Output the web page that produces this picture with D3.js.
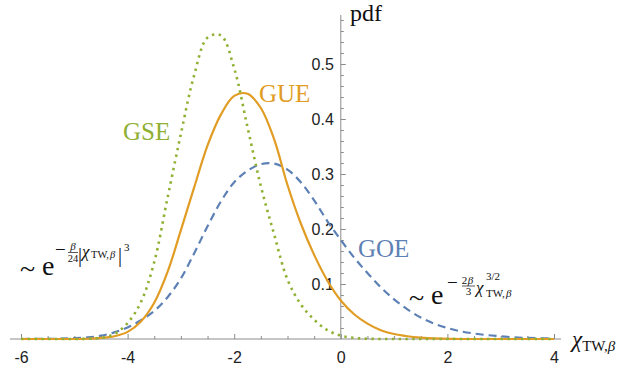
<!DOCTYPE html>
<html lang="en">
<head>
<meta charset="UTF-8">
<script src="https://cdn.jsdelivr.net/npm/d3@7"></script>
<title>Tracy-Widom pdf</title>
<style>
    body { margin: 0; background: #fff; }
    .tick text { font-family: "Liberation Sans", Arial, sans-serif; font-size: 16px; fill: #222; }
    .tick line { stroke: #8c8c8c; }
    .serif { font-family: "Liberation Serif", "Times New Roman", serif; }
</style>
</head>
<body>
<div id="chart"></div>
<script>
    // x grid of the three curves
    const xs = [-6, -5.75, -5.5, -5.25, -5, -4.75, -4.5, -4.25, -4, -3.75, -3.5, -3.25, -3, -2.75, -2.5, -2.25,
        -2, -1.75, -1.5, -1.25, -1, -0.75, -0.5, -0.25, 0, 0.25, 0.5, 0.75, 1, 1.25, 1.5, 1.75,
        2, 2.25, 2.5, 2.75, 3, 3.25, 3.5, 3.75, 4];

    const goe = [0, 0.0001, 0.0003, 0.0007, 0.0015, 0.003, 0.006, 0.012, 0.021, 0.034, 0.051, 0.076, 0.110, 0.156, 0.205, 0.250,
        0.285, 0.306, 0.318, 0.319, 0.308, 0.285, 0.252, 0.214, 0.180, 0.148, 0.120, 0.094, 0.072, 0.054, 0.039, 0.028,
        0.020, 0.014, 0.010, 0.007, 0.005, 0.003, 0.002, 0.0013, 0.0009];

    const gue = [0, 0, 0, 0, 0, 0.0005, 0.002, 0.005, 0.013, 0.032, 0.066, 0.122, 0.198, 0.276, 0.352, 0.408,
        0.442, 0.446, 0.420, 0.363, 0.280, 0.210, 0.153, 0.106, 0.070, 0.045, 0.028, 0.016, 0.009, 0.005, 0.0025, 0.001,
        0.0005, 0, 0, 0, 0, 0, 0, 0, 0];

    const gse = [0, 0, 0, 0, 0, 0.0005, 0.002, 0.009, 0.029, 0.067, 0.140, 0.257, 0.373, 0.480, 0.548, 0.552,
        0.492, 0.385, 0.278, 0.190, 0.108, 0.063, 0.035, 0.016, 0.006, 0.002, 0.0005, 0, 0, 0, 0, 0,
        0, 0, 0, 0, 0, 0, 0, 0, 0];

    const xTicks = [-6, -4, -2, 0, 2, 4];
    const yTicks = [0.1, 0.2, 0.3, 0.4, 0.5];
    const seriesNames = ["GOE", "GUE", "GSE"];

    const width = 624, height = 370;
    const colors = { GOE: "#5e81b5", GUE: "#e19c24", GSE: "#8fb032" };

    const svg = d3.select("#chart").append("svg")
        .attr("width", width)
        .attr("height", height);

    const x = d3.scaleLinear().domain([-6, 4]).range([21, 554]);
    const y = d3.scaleLinear().domain([0, 0.5]).range([339, 64]);

    // axis lines
    svg.append("line")
        .attr("x1", 10).attr("x2", 561)
        .attr("y1", y(0)).attr("y2", y(0))
        .attr("stroke", "#8c8c8c").attr("stroke-width", 1);
    svg.append("line")
        .attr("x1", x(0)).attr("x2", x(0))
        .attr("y1", y(0)).attr("y2", 15)
        .attr("stroke", "#8c8c8c").attr("stroke-width", 1);

    // minor ticks
    const xMinor = d3.range(-6, 4.01, 0.5).filter(v => !xTicks.includes(v));
    const yMinor = d3.range(0.02, 0.59, 0.02).filter(v => Math.abs(v * 10 - Math.round(v * 10)) > 0.01);

    svg.append("g")
        .attr("transform", `translate(0,${y(0)})`)
        .call(d3.axisBottom(x).tickValues(xMinor).tickSizeInner(-3).tickSizeOuter(0).tickFormat(""))
        .call(g => g.select(".domain").remove());
    svg.append("g")
        .attr("transform", `translate(0,${y(0)})`)
        .call(d3.axisBottom(x).tickValues(xTicks).tickSizeInner(-5).tickSizeOuter(0).tickPadding(13)
            .tickFormat(d => String(d)))
        .call(g => g.select(".domain").remove());

    svg.append("g")
        .attr("transform", `translate(${x(0)},0)`)
        .call(d3.axisLeft(y).tickValues(yMinor).tickSizeInner(-3).tickSizeOuter(0).tickFormat(""))
        .call(g => g.select(".domain").remove());
    svg.append("g")
        .attr("transform", `translate(${x(0)},0)`)
        .call(d3.axisLeft(y).tickValues(yTicks).tickSizeInner(-5).tickSizeOuter(0).tickPadding(7)
            .tickFormat(d3.format(".1f")))
        .call(g => g.select(".domain").remove());

    // curves
    const line = d3.line()
        .x(d => x(d[0]))
        .y(d => y(d[1]))
        .curve(d3.curveCatmullRom.alpha(0.5));

    const data = { GOE: goe, GUE: gue, GSE: gse };
    const dash = { GOE: "8,5", GUE: null, GSE: "2.4,4.4" };

    seriesNames.forEach(name => {
        svg.append("path")
            .datum(xs.map((v, i) => [v, data[name][i]]))
            .attr("d", line)
            .attr("fill", "none")
            .attr("stroke", colors[name])
            .attr("stroke-width", name === "GSE" ? 2.6 : 2.2)
            .attr("stroke-dasharray", dash[name]);
    });

    // series labels
    const labels = [
        { name: "GSE", x: 123, y: 140 },
        { name: "GUE", x: 259, y: 102 },
        { name: "GOE", x: 358, y: 257 }
    ];
    svg.selectAll(".lab")
        .data(labels)
        .enter()
        .append("text")
        .attr("class", "serif")
        .attr("x", d => d.x)
        .attr("y", d => d.y)
        .attr("font-size", 25)
        .attr("fill", d => colors[d.name])
        .text(d => d.name);

    // axis labels
    svg.append("text").attr("class", "serif")
        .attr("x", 350).attr("y", 21).attr("font-size", 24).attr("fill", "#111")
        .text("pdf");

    const xl = svg.append("text").attr("class", "serif").attr("x", 572).attr("y", 347).attr("fill", "#111");
    xl.append("tspan").attr("font-size", 23).attr("font-style", "italic").text("χ");
    xl.append("tspan").attr("font-size", 15).attr("dy", 4).text("TW,");
    xl.append("tspan").attr("font-size", 15).attr("font-style", "italic").text("β");

    // helper for small text pieces
    const put = (t, px, py, size, opts = {}) => {
        const el = svg.append("text").attr("class", "serif")
            .attr("x", px).attr("y", py)
            .attr("font-size", size).attr("fill", "#111")
            .text(t);
        if (opts.italic) el.attr("font-style", "italic");
        if (opts.anchor) el.attr("text-anchor", opts.anchor);
        return el;
    };

    // left tail: ~ e^{-β/24 |χ_TW,β|^3}
    put("~", 20, 278, 28);
    put("e", 42, 275, 28);
    put("−", 55, 256, 19);
    put("β", 73, 250, 11, { italic: true, anchor: "middle" });
    svg.append("line").attr("x1", 68).attr("x2", 78).attr("y1", 252.5).attr("y2", 252.5)
        .attr("stroke", "#111").attr("stroke-width", 0.7);
    put("24", 73, 261.5, 10.5, { anchor: "middle" });
    put("|", 78, 262, 20);
    put("χ", 82, 257, 17, { italic: true });
    put("TW,", 91, 258, 10.5);
    put("β", 110, 258, 10.5, { italic: true });
    put("|", 118, 262, 20);
    put("3", 124, 251, 11);

    // right tail: ~ e^{-2β/3 χ_TW,β^{3/2}}
    put("~", 409, 307, 28);
    put("e", 431, 304, 28);
    put("−", 447, 289, 19);
    put("2", 464.5, 283.5, 11, { anchor: "middle" });
    put("β", 470.5, 283.5, 11, { italic: true, anchor: "middle" });
    svg.append("line").attr("x1", 462).attr("x2", 475).attr("y1", 286).attr("y2", 286)
        .attr("stroke", "#111").attr("stroke-width", 0.7);
    put("3", 468.5, 294.5, 11, { anchor: "middle" });
    put("χ", 476, 293, 17, { italic: true });
    put("3/2", 486, 280, 11);
    put("TW,", 486, 297, 11);
    put("β", 506, 297, 11, { italic: true });
</script>
</body>
</html>
